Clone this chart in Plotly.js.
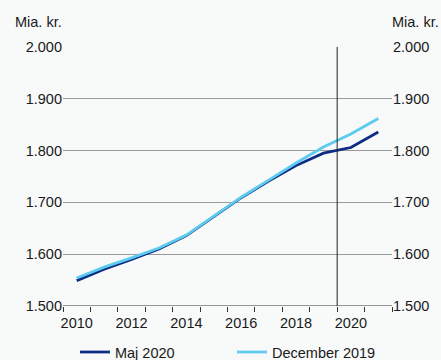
<!DOCTYPE html>
<html><head><meta charset="utf-8">
<script src="https://cdn.plot.ly/plotly-3.0.1.min.js"></script>
<style>html,body{margin:0;padding:0;background:#f8f9f9;}</style>
</head><body>
<div id="chart" style="width:441px;height:360px;"></div>
<script>
const years = [2010,2011,2012,2013,2014,2015,2016,2017,2018,2019,2020,2021];
const maj2020 = [1549,1571,1590,1610,1636,1672,1709,1741,1771,1795,1806,1836];
const dec2019 = [1554,1575,1593,1612,1637,1673,1710,1743,1776,1807,1832,1862];
const yTicks = [1500,1600,1700,1800,1900,2000];
const xTickLabels = [2010,2012,2014,2016,2018,2020];
const boundaries = years.map(y => y - 0.5).concat([years[years.length-1] + 0.5]);

const font = {family: 'Liberation Sans, Arial, sans-serif', size: 14.5, color: '#1a1a1a'};

const traces = [
  {x: years, y: maj2020, name: 'Maj 2020', type: 'scatter', mode: 'lines',
   line: {color: '#0c2d83', width: 2.75}},
  {x: years, y: dec2019, name: 'December 2019', type: 'scatter', mode: 'lines',
   line: {color: '#5ccbef', width: 2.75}},
  {x: years, y: dec2019, yaxis: 'y2', type: 'scatter', mode: 'lines', showlegend: false,
   hoverinfo: 'skip', line: {color: 'rgba(0,0,0,0)', width: 0}}
];

const layout = {
  width: 441, height: 360,
  paper_bgcolor: '#f8f9f9', plot_bgcolor: '#f8f9f9',
  font: font,
  separators: ',.',
  margin: {l: 63, r: 49, t: 47, b: 54},
  showlegend: true,
  legend: {orientation: 'h', xref: 'container', yref: 'container', x: 0.17, xanchor: 'left',
           y: 0.022, yanchor: 'middle', entrywidth: 112, entrywidthmode: 'pixels',
           font: font, bgcolor: 'rgba(0,0,0,0)', traceorder: 'normal'},
  xaxis: {type: 'linear', range: [2009.5, 2021.5], tickvals: xTickLabels,
          ticktext: xTickLabels.map(String), ticks: '', showgrid: false, zeroline: false,
          showline: false, tickfont: font, ticklabelstandoff: 6,
          minor: {tickvals: boundaries, ticks: 'outside', ticklen: 5, tickcolor: '#333', tickwidth: 1, showgrid: false}},
  yaxis: {range: [1500, 2000], tickvals: yTicks, tickformat: ',d', ticks: '',
          showgrid: true, gridcolor: '#9a9a9a', gridwidth: 1, zeroline: false,
          showline: false, tickfont: font},
  yaxis2: {range: [1500, 2000], tickvals: yTicks, tickformat: ',d', ticks: '',
           overlaying: 'y', side: 'right', showgrid: false, zeroline: false,
           showline: false, tickfont: font},
  shapes: [
    {type: 'line', xref: 'x', yref: 'y', x0: 2019.5, x1: 2019.5, y0: 1500, y1: 2000,
     line: {color: '#222', width: 1}},
    {type: 'line', xref: 'paper', yref: 'y', x0: 0, x1: 1, y0: 1500, y1: 1500,
     line: {color: '#333', width: 1}}
  ],
  annotations: [
    {text: 'Mia. kr.', xref: 'paper', yref: 'paper', x: -0.152, y: 1.095, xanchor: 'left',
     yanchor: 'middle', showarrow: false, font: font},
    {text: 'Mia. kr.', xref: 'paper', yref: 'paper', x: 1.149, y: 1.095, xanchor: 'right',
     yanchor: 'middle', showarrow: false, font: font}
  ]
};

Plotly.newPlot('chart', traces, layout, {displayModeBar: false, staticPlot: true});
</script>
</body></html>
